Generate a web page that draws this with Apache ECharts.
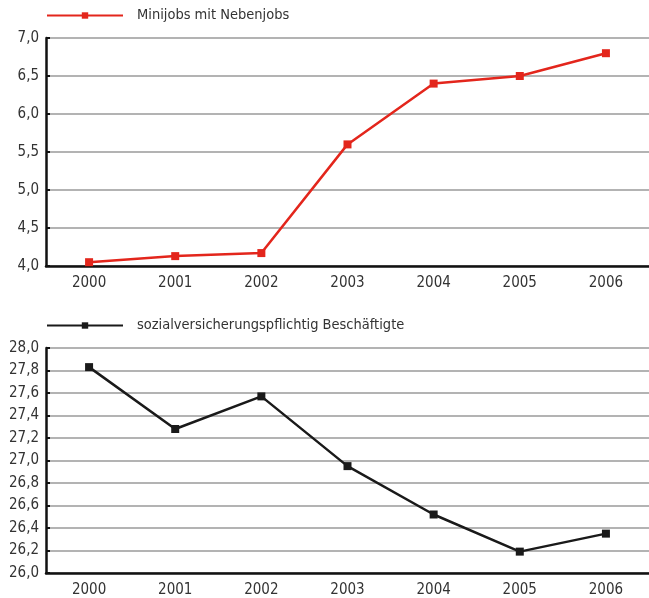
<!DOCTYPE html>
<html>
<head>
<meta charset="utf-8">
<script src="https://cdn.jsdelivr.net/npm/echarts@6/dist/echarts.min.js"></script>
<style>
  html, body { margin: 0; padding: 0; background: #fff; }
  #chart { width: 649px; height: 598px; }
</style>
</head>
<body>
<div id="chart"></div>
<script>
// Jahre (Kategorien)
const years = ['2000', '2001', '2002', '2003', '2004', '2005', '2006'];

// Minijobs mit Nebenjobs (Mio.)
const minijobsName = 'Minijobs mit Nebenjobs';
const minijobs = [4.05, 4.13, 4.17, 5.6, 6.4, 6.5, 6.8];

// sozialversicherungspflichtig Beschäftigte (Mio.)
const svbName = 'sozialversicherungspflichtig Beschäftigte';
const svb = [27.83, 27.28, 27.57, 26.95, 26.52, 26.19, 26.35];

// Achsenbereiche
const topAxis = { min: 4.0, max: 7.0, interval: 0.5 };
const bottomAxis = { min: 26.0, max: 28.0, interval: 0.2 };

const FONT = '"DejaVu Sans Condensed", "Liberation Sans Narrow", sans-serif';
const RED = '#e3261c';
const BLACK = '#1a1a1a';

const fmt = v => v.toFixed(1).replace('.', ',');

function xAxisFor(gridIndex) {
  return {
    type: 'category',
    gridIndex,
    data: years,
    boundaryGap: true,
    axisLine: { lineStyle: { color: '#111', width: 2.5 } },
    axisTick: { inside: true, length: 5, lineStyle: { color: '#111', width: 2 } },
    axisLabel: { color: '#333', fontFamily: FONT, fontSize: 15, margin: 10 },
    splitLine: { show: false }
  };
}

function yAxisFor(gridIndex, range) {
  return {
    type: 'value',
    gridIndex,
    min: range.min,
    max: range.max,
    interval: range.interval,
    axisLine: { show: true, lineStyle: { color: '#111', width: 2.5 } },
    axisTick: { show: true, inside: true, length: 4, lineStyle: { color: '#111', width: 2 } },
    axisLabel: { color: '#333', fontFamily: FONT, fontSize: 15, margin: 7, formatter: fmt },
    splitLine: { show: true, lineStyle: { color: '#9a9a9a', width: 1.5 } }
  };
}

function legendFor(name, top) {
  return {
    data: [name],
    left: 46, top,
    padding: 0,
    itemWidth: 76, itemHeight: 8, itemGap: 0,
    textStyle: { color: '#333', fontSize: 14.5, fontFamily: FONT, padding: [0, 0, 0, 9] }
  };
}

const chart = echarts.init(document.getElementById('chart'), null, { renderer: 'canvas' });

chart.setOption({
  animation: false,
  backgroundColor: '#fff',
  textStyle: { fontFamily: FONT },
  legend: [legendFor(minijobsName, 8), legendFor(svbName, 318)],
  grid: [
    { left: 46, right: 0, top: 38, height: 228 },
    { left: 46, right: 0, top: 348, height: 227 }
  ],
  xAxis: [xAxisFor(0), xAxisFor(1)],
  yAxis: [yAxisFor(0, topAxis), yAxisFor(1, bottomAxis)],
  series: [
    {
      name: minijobsName,
      type: 'line',
      xAxisIndex: 0, yAxisIndex: 0,
      data: minijobs,
      symbol: 'rect', symbolSize: 8,
      lineStyle: { color: RED, width: 2.5 },
      itemStyle: { color: RED }
    },
    {
      name: svbName,
      type: 'line',
      xAxisIndex: 1, yAxisIndex: 1,
      data: svb,
      symbol: 'rect', symbolSize: 8,
      lineStyle: { color: BLACK, width: 2.5 },
      itemStyle: { color: BLACK }
    }
  ]
});
</script>
</body>
</html>
